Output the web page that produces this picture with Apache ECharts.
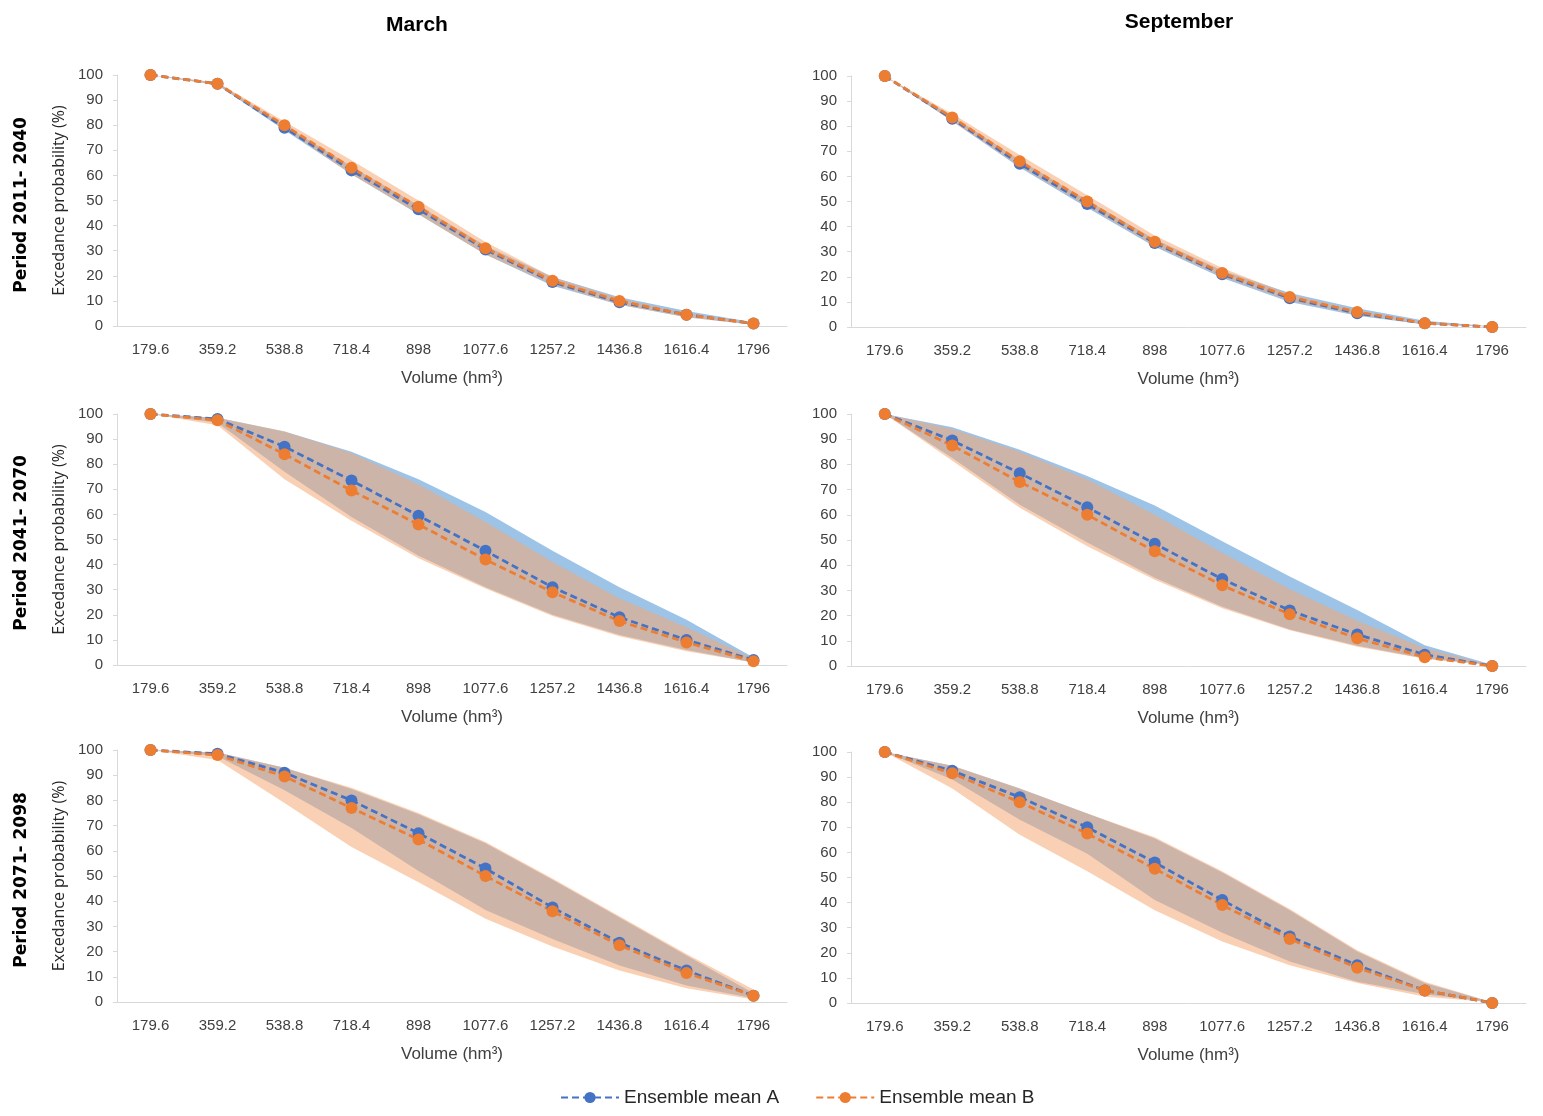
<!DOCTYPE html>
<html>
<head>
<meta charset="utf-8">
<script src="https://cdn.jsdelivr.net/npm/echarts@6/dist/echarts.min.js"></script>
<style>
html,body{margin:0;padding:0;background:#fff;}
#chart{width:1543px;height:1116px;}
</style>
</head>
<body>
<div id="chart"></div>
<script>
// ---------- DATA ----------
const categories = ['179.6','359.2','538.8','718.4','898','1077.6','1257.2','1436.8','1616.4','1796'];
const yTicks = [0,10,20,30,40,50,60,70,80,90,100];
const columnTitles = ['March','September'];
const rowTitles = ['Period 2011- 2040','Period 2041- 2070','Period 2071- 2098'];
const seriesNames = ['Ensemble mean A','Ensemble mean B'];

// March, 2011-2040
const mar1_meanA = [100, 96.5, 79, 62, 46.5, 30.5, 17.5, 9.5, 4.5, 1];
const mar1_meanB = [100, 96.5, 80, 63, 47.5, 31, 18, 10, 4.5, 1];
const mar1_lowA  = [100, 96, 78, 60.5, 44.5, 28.5, 16, 8.5, 3.5, 0.5];
const mar1_upA   = [100, 97, 80, 63.5, 48, 32, 19.5, 11.5, 6, 1.5];
const mar1_lowB  = [100, 96, 78.5, 60.5, 44.5, 28.5, 16.5, 8.5, 3.5, 0.5];
const mar1_upB   = [100, 97, 81.5, 66, 50, 33.5, 19.5, 11, 5, 1.5];

// September, 2011-2040
const sep1_meanA = [100, 83, 65, 49, 33.5, 21, 11.5, 5.5, 1.5, 0];
const sep1_meanB = [100, 83.5, 66, 50, 34, 21.5, 12, 6, 1.5, 0];
const sep1_lowA  = [100, 82, 63.5, 47.5, 32, 19.5, 10, 4.5, 1, 0];
const sep1_upA   = [100, 84, 66.5, 50.5, 35, 22.5, 13.5, 7.5, 2.5, 0.2];
const sep1_lowB  = [100, 82, 64, 48, 32.5, 20, 10.5, 5, 1, 0];
const sep1_upB   = [100, 85, 68.5, 52.5, 36.5, 23.5, 13, 6.5, 2, 0.2];

// March, 2041-2070
const mar2_meanA = [100, 98, 87, 73.5, 59.5, 45.5, 31, 19, 10, 2];
const mar2_meanB = [100, 97.5, 84, 69.5, 56, 42, 29, 17.5, 9, 1.5];
const mar2_lowA  = [100, 96.5, 77, 59, 43.5, 31, 20, 12, 6, 1];
const mar2_upA   = [100, 98.5, 93, 85, 74, 61, 45.5, 31, 18, 3];
const mar2_lowB  = [100, 95.5, 74, 57.5, 42.5, 30.5, 19.5, 11.5, 5.5, 1];
const mar2_upB   = [100, 98.5, 93, 84.5, 72, 57, 41, 26.5, 15, 2.5];

// September, 2041-2070
const sep2_meanA = [100, 89.5, 76.5, 63, 48.5, 34.5, 22, 12.5, 4.5, 0];
const sep2_meanB = [100, 87.5, 73, 60, 45.5, 32, 20.5, 11, 3.5, 0];
const sep2_lowA  = [100, 82.5, 64, 49, 35, 23.5, 14.5, 8, 3, 0];
const sep2_upA   = [100, 94.7, 85.8, 75.4, 63.7, 49.5, 35.5, 22.2, 8.2, 0.5];
const sep2_lowB  = [100, 81.4, 62.8, 47.5, 34.2, 22.9, 14.2, 7.6, 2.9, 0];
const sep2_upB   = [100, 94, 85, 74, 60, 44.8, 30.5, 18, 7, 0.3];

// March, 2071-2098
const mar3_meanA = [100, 98.5, 91, 80, 67, 53, 37.5, 23.5, 12.5, 2.5];
const mar3_meanB = [100, 98, 89.5, 77, 64.5, 50, 36, 22.5, 11.5, 2.5];
const mar3_lowA  = [100, 97.5, 84, 69, 52, 36.5, 25, 14.5, 6.5, 1.5];
const mar3_upA   = [100, 99, 93, 84.5, 74.5, 63, 48.5, 33.5, 18.5, 3.5];
const mar3_lowB  = [100, 96, 79, 61.5, 47.5, 33, 22, 12.5, 5.5, 1];
const mar3_upB   = [100, 99, 93, 85, 75, 63.5, 49, 34, 19, 5];

// September, 2071-2098
const sep3_meanA = [100, 92.5, 82, 70, 56, 41, 26.5, 15, 5, 0];
const sep3_meanB = [100, 91.5, 80, 67.5, 53.5, 39, 25.5, 14, 5, 0];
const sep3_lowA  = [100, 89, 73, 59.5, 41, 28, 16.5, 8.5, 3.5, 0];
const sep3_upA   = [100, 94.5, 85.5, 75.5, 65.5, 52, 37, 20.5, 8, 0.3];
const sep3_lowB  = [100, 85.5, 67, 52.5, 37, 24.5, 15, 8, 2.5, 0];
const sep3_upB   = [100, 94.5, 85.5, 75.5, 66, 52.5, 37.5, 21, 8.5, 0.3];

// ---------- BUILD ----------
const panels = [
  {meanA: mar1_meanA, meanB: mar1_meanB, lowA: mar1_lowA, upA: mar1_upA, lowB: mar1_lowB, upB: mar1_upB},
  {meanA: sep1_meanA, meanB: sep1_meanB, lowA: sep1_lowA, upA: sep1_upA, lowB: sep1_lowB, upB: sep1_upB},
  {meanA: mar2_meanA, meanB: mar2_meanB, lowA: mar2_lowA, upA: mar2_upA, lowB: mar2_lowB, upB: mar2_upB},
  {meanA: sep2_meanA, meanB: sep2_meanB, lowA: sep2_lowA, upA: sep2_upA, lowB: sep2_lowB, upB: sep2_upB},
  {meanA: mar3_meanA, meanB: mar3_meanB, lowA: mar3_lowA, upA: mar3_upA, lowB: mar3_lowB, upB: mar3_upB},
  {meanA: sep3_meanA, meanB: sep3_meanB, lowA: sep3_lowA, upA: sep3_upA, lowB: sep3_lowB, upB: sep3_upB}
];

const gridPos = [
  {left: 117, top: 75,  width: 670, height: 251},
  {left: 851, top: 76,  width: 675, height: 251},
  {left: 117, top: 414, width: 670, height: 251},
  {left: 851, top: 414, width: 675, height: 252},
  {left: 117, top: 750, width: 670, height: 252},
  {left: 851, top: 752, width: 675, height: 251}
];

const tickFont = "'Liberation Sans', sans-serif";
const blue = '#4472C4';
const orange = '#ED7D31';
const bandBlue = 'rgba(91,155,213,0.6)';
const bandOrange = 'rgba(246,168,116,0.54)';

const grids = [], xAxes = [], yAxes = [], series = [];

panels.forEach((p, i) => {
  grids.push(Object.assign({containLabel: false}, gridPos[i]));
  xAxes.push({
    type: 'category', gridIndex: i, data: categories, boundaryGap: true,
    axisLine: {show: true, lineStyle: {color: '#D9D9D9', width: 1}},
    axisTick: {show: false},
    axisLabel: {color: '#404040', fontSize: 15, fontFamily: tickFont, margin: 16, interval: 0},
    name: 'Volume (hm³)', nameLocation: 'middle', nameGap: 44,
    nameTextStyle: {color: '#404040', fontSize: 17, fontFamily: tickFont},
    splitLine: {show: false}
  });
  yAxes.push({
    type: 'value', gridIndex: i, min: 0, max: 100, interval: 10,
    axisLine: {show: true, lineStyle: {color: '#D9D9D9', width: 1}},
    axisTick: {show: true, length: 4, lineStyle: {color: '#D9D9D9'}},
    axisLabel: {color: '#404040', fontSize: 15, fontFamily: tickFont, margin: 14},
    splitLine: {show: false},
    name: (i % 2 === 0) ? 'Excedance probability (%)' : '',
    nameLocation: 'middle', nameGap: 50, nameRotate: 90,
    nameTextStyle: {color: '#262626', fontSize: 16, fontFamily: "'Open Sans', sans-serif"}
  });

  const diffA = p.upA.map((v, k) => v - p.lowA[k]);
  const diffB = p.upB.map((v, k) => v - p.lowB[k]);
  const base = {type: 'line', xAxisIndex: i, yAxisIndex: i, symbol: 'none', silent: true,
    lineStyle: {width: 0, opacity: 0}, animation: false};
  series.push(Object.assign({}, base, {name: 'bandA_low' + i, stack: 'bandA' + i, data: p.lowA}));
  series.push(Object.assign({}, base, {name: 'bandA_rng' + i, stack: 'bandA' + i, data: diffA,
    areaStyle: {color: bandBlue, opacity: 1}}));
  series.push(Object.assign({}, base, {name: 'bandB_low' + i, stack: 'bandB' + i, data: p.lowB}));
  series.push(Object.assign({}, base, {name: 'bandB_rng' + i, stack: 'bandB' + i, data: diffB,
    areaStyle: {color: bandOrange, opacity: 1}}));

  [[p.meanA, blue, seriesNames[0]], [p.meanB, orange, seriesNames[1]]].forEach(([d, c, n]) => {
    series.push({
      type: 'line', name: n, xAxisIndex: i, yAxisIndex: i, data: d,
      symbol: 'circle', symbolSize: 12, showSymbol: true, animation: false,
      itemStyle: {color: c, borderColor: c, borderWidth: 0},
      lineStyle: {color: c, width: 2.75, type: [7, 4]},
      z: 5
    });
  });
});

const graphics = [];
const rowCenters = [205, 543, 880];
rowTitles.forEach((t, r) => {
  graphics.push({
    type: 'text', x: 22, y: rowCenters[r], rotation: Math.PI / 2,
    style: {text: t, fill: '#000', font: "bold 17px 'DejaVu Sans', sans-serif",
      align: 'center', verticalAlign: 'middle'}
  });
});
graphics.push({
  type: 'text', x: 417, y: 25,
  style: {text: columnTitles[0], fill: '#000', font: "bold 21px 'Liberation Sans', sans-serif",
    align: 'center', verticalAlign: 'middle'}
});
graphics.push({
  type: 'text', x: 1179, y: 22,
  style: {text: columnTitles[1], fill: '#000', font: "bold 21px 'Liberation Sans', sans-serif",
    align: 'center', verticalAlign: 'middle'}
});

const option = {
  backgroundColor: '#ffffff',
  animation: false,
  grid: grids,
  xAxis: xAxes,
  yAxis: yAxes,
  series: series,
  graphic: graphics,
  legend: {
    data: seriesNames,
    top: 1083, left: 555,
    itemWidth: 58, itemHeight: 14, itemGap: 36,
    textStyle: {color: '#262626', fontSize: 19, fontFamily: "'Liberation Sans', sans-serif"},
    selectedMode: false
  }
};

const chart = echarts.init(document.getElementById('chart'), null, {renderer: 'canvas'});
chart.setOption(option);
</script>
</body>
</html>
